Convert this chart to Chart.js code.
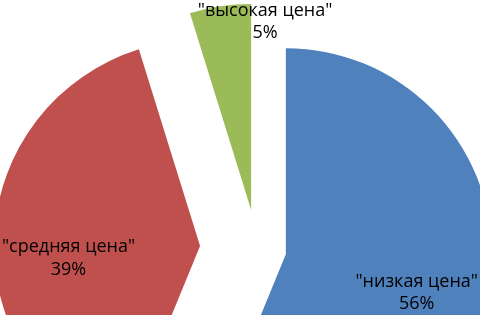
<!DOCTYPE html>
<html><head><meta charset="utf-8">
<script src="https://cdn.jsdelivr.net/npm/chart.js@4/dist/chart.umd.min.js"></script>
<style>html,body{margin:0;padding:0;background:#fff;overflow:hidden}</style>
</head><body>
<canvas id="c" width="480" height="315"></canvas>
<script>
// ---- data ----
const categories = ['"низкая цена"', '"средняя цена"', '"высокая цена"'];
const shares = [56.2, 39.0, 4.8];

// ---- styles ----
const colors = ['#4F81BD', '#C0504D', '#9BBB59'];
const explode = [29.4, 57, 39];
const labelRadius = [0.67, 0.644, 0.89];
const labelTurnDeg = [7.4, -10, 13];
const lineGap = 22.7;
const labelFont = '18px "Open Sans"';

const explodePlugin = {
  id: 'explode',
  beforeDatasetDraw(chart, args) {
    const ctx = chart.ctx;
    args.meta.data.forEach((arc, i) => {
      const mid = (arc.startAngle + arc.endAngle) / 2;
      ctx.save();
      ctx.translate(Math.cos(mid) * explode[i], Math.sin(mid) * explode[i]);
      arc.draw(ctx);
      ctx.restore();
    });
    return false;
  },
  afterDatasetsDraw(chart) {
    const meta = chart.getDatasetMeta(0);
    const ctx = chart.ctx;
    const total = shares.reduce((a, b) => a + b, 0);
    ctx.save();
    ctx.font = labelFont;
    ctx.fillStyle = '#000';
    ctx.textAlign = 'center';
    ctx.textBaseline = 'alphabetic';
    meta.data.forEach((arc, i) => {
      const mid = (arc.startAngle + arc.endAngle) / 2;
      const ax = arc.x + Math.cos(mid) * explode[i];
      const ay = arc.y + Math.sin(mid) * explode[i];
      const a = mid + labelTurnDeg[i] * Math.PI / 180;
      const r = arc.outerRadius * labelRadius[i];
      const x = ax + Math.cos(a) * r, y = ay + Math.sin(a) * r;
      const pct = Math.round(shares[i] / total * 100) + '%';
      ctx.fillText(categories[i], x, y - lineGap / 2);
      ctx.fillText(pct, x, y + lineGap / 2);
    });
    ctx.restore();
  }
};

new Chart(document.getElementById('c'), {
  type: 'pie',
  data: {
    labels: categories,
    datasets: [{
      data: shares,
      backgroundColor: colors,
      borderWidth: 0,
      clip: false
    }]
  },
  options: {
    responsive: false,
    animation: false,
    events: [],
    radius: 206,
    layout: { padding: { left: 34, right: 0, top: 182, bottom: 0 } },
    plugins: { legend: { display: false }, tooltip: { enabled: false } }
  },
  plugins: [explodePlugin]
});
</script>
</body></html>
